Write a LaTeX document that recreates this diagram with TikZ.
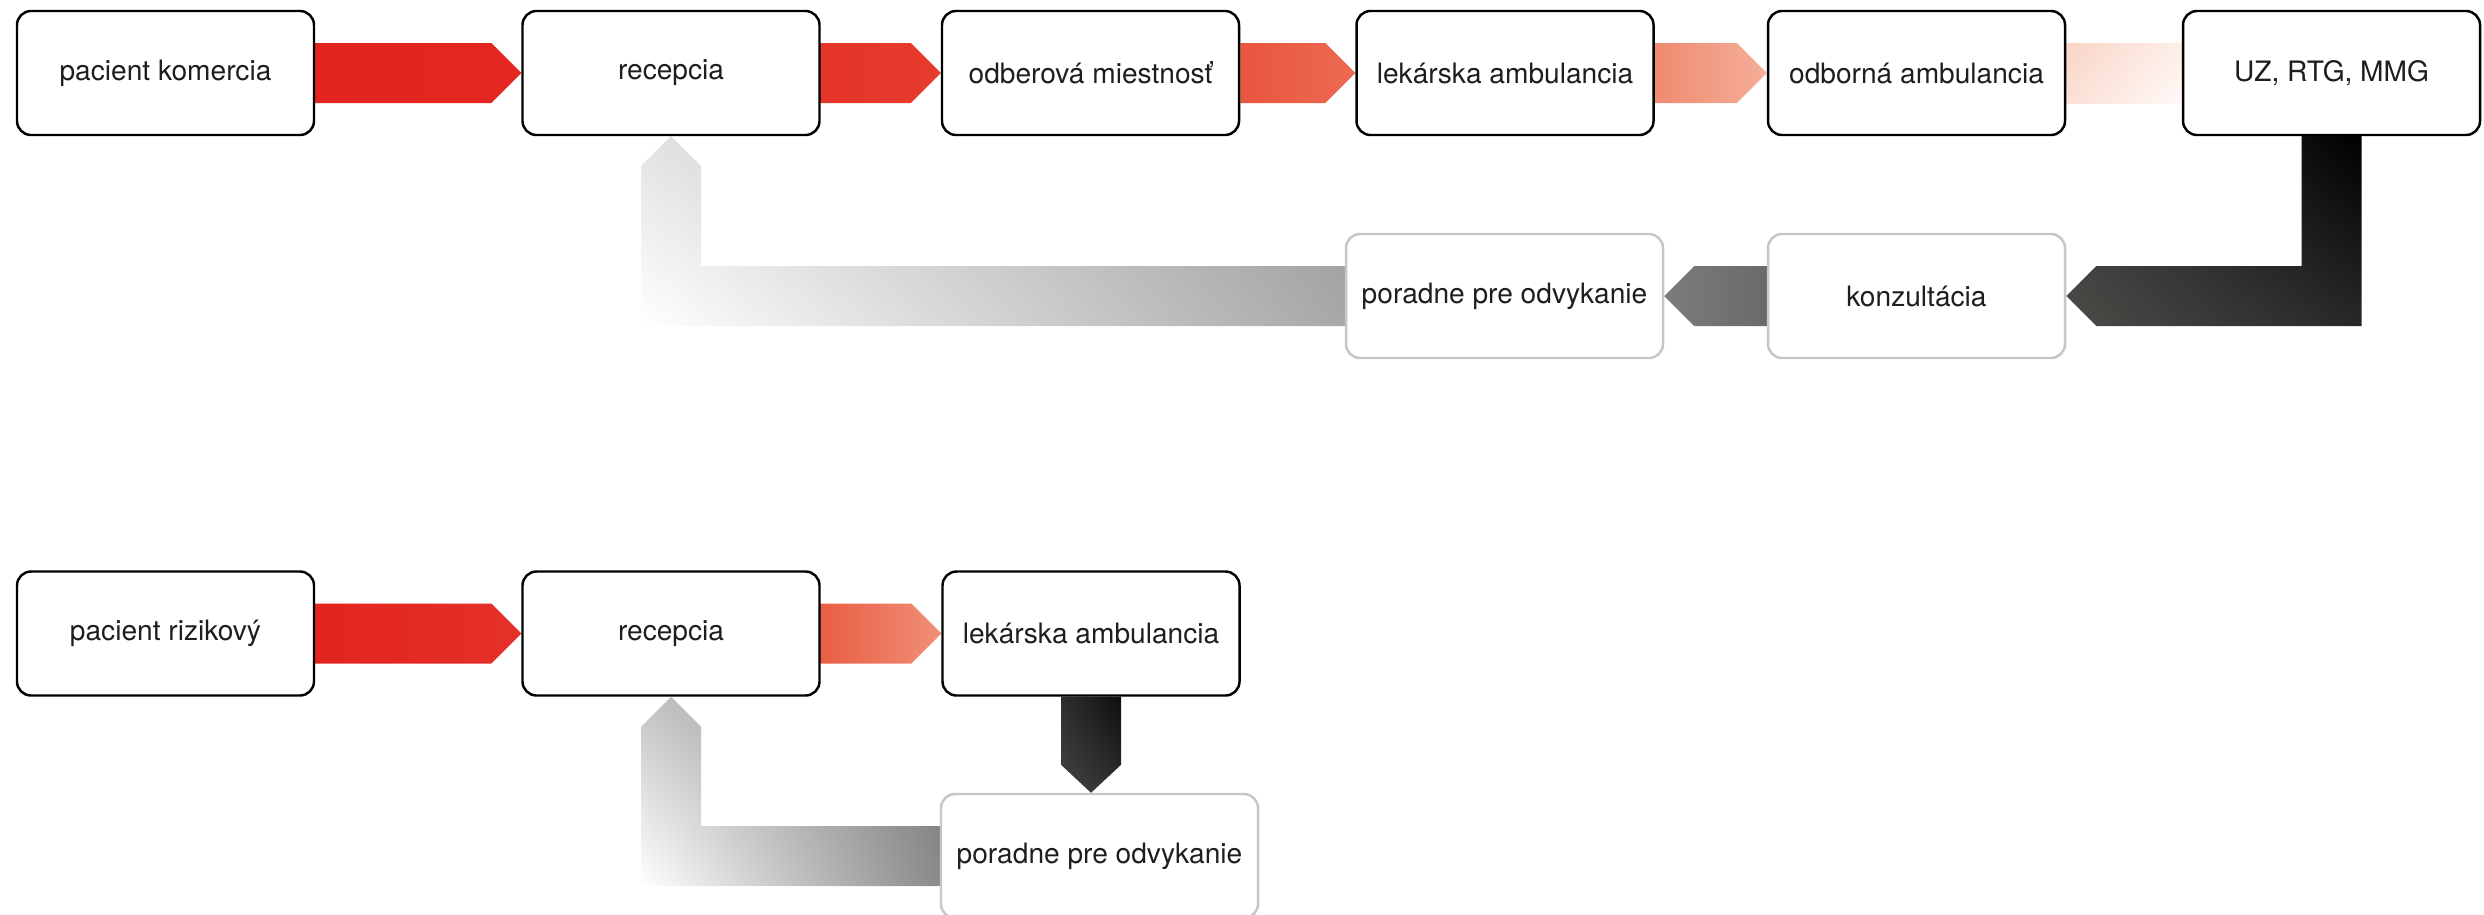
\documentclass[tikz,border=0pt]{standalone}
\usepackage{fontspec}
\setmainfont{TeX Gyre Heros}
\usetikzlibrary{calc,shadings,backgrounds}

\definecolor{txt}{HTML}{1E1E1E}
\definecolor{frame}{HTML}{C6C6C6}

\newcommand{\hflow}[3]{%
  \shade[#3] ($(#1.east)+(0,-30)$) -- ($(#2.west)+(-30,-30)$) -- (#2.west)
    -- ($(#2.west)+(-30,30)$) -- ($(#1.east)+(0,30)$) -- cycle;}

\begin{document}
\begin{tikzpicture}[x=0.1mm,y=-0.1mm,
  stage/.style={draw=black,line width=0.7pt,rounded corners=1.4mm,fill=white,
    minimum width=29.7mm,minimum height=12.4mm,inner sep=0pt,
    font=\fontsize{8}{10}\selectfont,text=txt},
  stagegray/.style={stage,draw=frame,minimum width=31.7mm}]
\useasboundingbox (0,0) rectangle (2484,914);

\node[stage] (pk) at (165.5,73) {pacient komercia};
\node[stage] (rec1) at (671,73) {recepcia};
\node[stage] (odb) at (1090.5,73) {odberová miestnosť};
\node[stage] (lek1) at (1505,73) {lekárska ambulancia};
\node[stage] (odbamb) at (1916.5,73) {odborná ambulancia};
\node[stage] (uz) at (2331.5,73) {UZ, RTG, MMG};
\node[stagegray,minimum width=29.7mm] (kon) at (1916.5,296) {konzultácia};
\node[stagegray] (por1) at (1504.5,296) {poradne pre odvykanie};

\node[stage] (pr) at (165.5,633.5) {pacient rizikový};
\node[stage] (rec2) at (671,633.5) {recepcia};
\node[stage] (lek2) at (1091,633.5) {lekárska ambulancia};
\node[stagegray] (por2) at (1099.5,856) {poradne pre odvykanie};

\begin{scope}[on background layer]
\hflow{pk}{rec1}{left color={rgb,255:red,227;green,36;blue,31},right color={rgb,255:red,228;green,39;blue,32}}
\hflow{rec1}{odb}{left color={rgb,255:red,229;green,52;blue,42},right color={rgb,255:red,230;green,59;blue,45}}
\hflow{odb}{lek1}{left color={rgb,255:red,233;green,85;blue,63},right color={rgb,255:red,236;green,107;blue,81}}
\hflow{lek1}{odbamb}{left color={rgb,255:red,239;green,139;blue,113},right color={rgb,255:red,245;green,174;blue,152}}
\shade[upper left={rgb,255:red,249;green,213;blue,199},upper right={rgb,255:red,253;green,238;blue,232},
  lower left={rgb,255:red,251;green,224;blue,214},lower right={rgb,255:red,255;green,250;blue,248}]
  ($(odbamb.east)+(0,-30)$) rectangle ($(uz.west)+(0,30)$);
\shade[upper left={rgb,255:red,58;green,58;blue,58},upper right=black,
  lower left={rgb,255:red,76;green,75;blue,72},lower right={rgb,255:red,40;green,40;blue,40}]
  ($(uz.south)+(-30,0)$) -- ($(uz.south)+(30,0)$) |- ($(kon.east)+(30,30)$) -- (kon.east)
  -- ($(kon.east)+(30,-30)$) -| ($(uz.south)+(-30,0)$) -- cycle;
\shade[left color={rgb,255:red,124;green,124;blue,124},right color={rgb,255:red,106;green,106;blue,106}]
  ($(kon.west)+(0,-30)$) -- ($(por1.east)+(30,-30)$) -- (por1.east)
  -- ($(por1.east)+(30,30)$) -- ($(kon.west)+(0,30)$) -- cycle;
\shade[upper left={rgb,255:red,226;green,226;blue,226},upper right={rgb,255:red,152;green,152;blue,152},
  lower left=white,lower right={rgb,255:red,168;green,168;blue,168}]
  ($(por1.west)+(0,-30)$) -| ($(rec1.south)+(30,30)$) -- (rec1.south)
  -- ($(rec1.south)+(-30,30)$) |- ($(por1.west)+(0,30)$) -- cycle;

\hflow{pr}{rec2}{left color={rgb,255:red,227;green,36;blue,31},right color={rgb,255:red,229;green,48;blue,42}}
\hflow{rec2}{lek2}{left color={rgb,255:red,234;green,94;blue,69},right color={rgb,255:red,240;green,144;blue,120}}
\shade[upper left={rgb,255:red,46;green,46;blue,46},upper right={rgb,255:red,14;green,14;blue,14},
  lower left={rgb,255:red,68;green,68;blue,68},lower right={rgb,255:red,46;green,46;blue,46}]
  ($(lek2.south)+(-30,0)$) -- ($(lek2.south)+(30,0)$) -- ($(lek2.south |- por2.north)+(30,-28)$)
  -- (lek2.south |- por2.north) -- ($(lek2.south |- por2.north)+(-30,-28)$) -- cycle;
\shade[upper left={rgb,255:red,196;green,196;blue,196},upper right={rgb,255:red,122;green,122;blue,122},
  lower left=white,lower right={rgb,255:red,138;green,138;blue,138}]
  ($(por2.west)+(0,-30)$) -| ($(rec2.south)+(30,30)$) -- (rec2.south)
  -- ($(rec2.south)+(-30,30)$) |- ($(por2.west)+(0,30)$) -- cycle;
\end{scope}
\end{tikzpicture}
\end{document}
